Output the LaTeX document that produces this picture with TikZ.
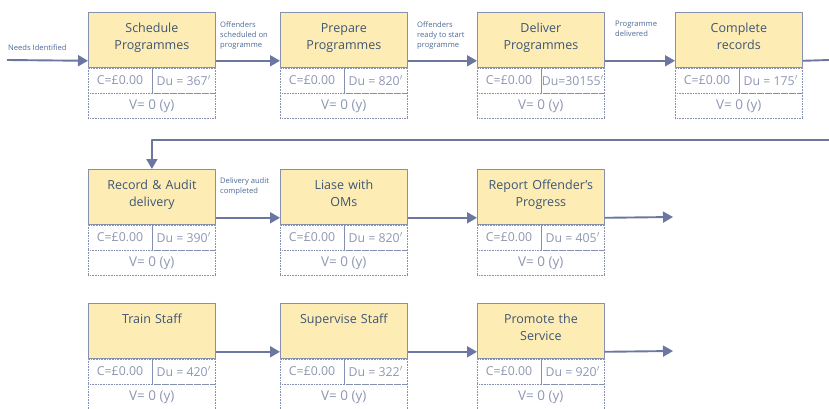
\documentclass[tikz,border=0pt]{standalone}
\usepackage{fontspec}
\setmainfont{Open Sans}
\usetikzlibrary{arrows.meta,positioning}
\definecolor{boxfill}{HTML}{FDEDB5}
\definecolor{boxline}{HTML}{8590B0}
\definecolor{titletext}{HTML}{3E5575}
\definecolor{celltext}{HTML}{8E97B3}
\definecolor{flowline}{HTML}{6B77A0}
\definecolor{lbltext}{HTML}{4C6996}

% one process box: name, x, y (top left), title, duration
\newcommand{\proc}[5]{%
  \node[proc] (#1) at (#2,#3) {};
  \node[ptitle] (#1t) at (#1.north) {#4};
  \node[half] (#1c) at (#1.south west) {C=£0.00};
  \node[half,anchor=north east] (#1d) at (#1.south east) {#5};
  \node[vrow] (#1v) at (#1c.south west) {V= 0 (y)};
  \draw[boxline,line width=0.8pt] (#1c.north east) -- (#1c.south east);
}

\begin{document}
\begin{tikzpicture}[x=1pt, y=1pt, line join=round,
    proc/.style={draw=boxline, fill=boxfill, line width=0.8pt, anchor=north west,
      minimum width=127pt, minimum height=55pt, inner sep=0pt},
    ptitle/.style={anchor=north, text=titletext, font=\fontsize{12.5}{17}\selectfont,
      align=center, text width=124pt, inner sep=0pt, yshift=-11pt},
    half/.style={draw=boxline, densely dotted, line width=0.6pt, anchor=north west,
      minimum width=63.5pt, minimum height=25pt, inner sep=0pt, text=celltext,
      font=\fontsize{12.3}{14}\selectfont},
    vrow/.style={half, minimum width=127pt, font=\fontsize{13.5}{15}\selectfont},
    lbl/.style={anchor=north west, align=left, text=lbltext, inner sep=0pt,
      font=\fontsize{7.6}{10}\selectfont},
    flow/.style={draw=flowline, line width=1.9pt, -{Triangle[length=10pt,width=11pt]}},
    flowend/.style={draw=flowline, line width=1.9pt}]
\useasboundingbox (0,0) rectangle (829,-409);

% first row
\proc{sched}{88}{-12}{Schedule\\Programmes}{Du = 367$'$}
\proc{prep}{280}{-12}{Prepare\\Programmes}{Du = 820$'$}
\proc{deliv}{477}{-12}{Deliver\\Programmes}{Du=30155$'$}
\proc{compl}{675}{-12}{Complete\\records}{Du = 175$'$}

% second row
\proc{audit}{88}{-169}{Record \& Audit\\delivery}{Du = 390$'$}
\proc{liase}{280}{-169}{Liase with\\OMs}{Du = 820$'$}
\proc{report}{477}{-169}{Report Offender’s\\Progress}{Du = 405$'$}

% third row
\proc{train}{88}{-303}{Train Staff}{Du = 420$'$}
\proc{superv}{280}{-303}{Supervise Staff}{Du = 322$'$}
\proc{promo}{477}{-303}{Promote the\\Service}{Du = 920$'$}

% flow labels
\node[lbl] (needs) at (8,-44) {Needs Identified};
\node[lbl] (lsched) at (220,-21) {Offenders\\scheduled on\\programme};
\node[lbl] (lready) at (417,-21) {Offenders\\ready to start\\programme};
\node[lbl] (ldeliv) at (615,-21) {Programme\\delivered};
\node[lbl] (laudit) at (220,-178) {Delivery audit\\completed};

\coordinate (start) at (7,-60);
\coordinate (edge1) at (829,-60);
\coordinate (edge2) at (829,-140);
\coordinate (out2) at (673,-217);
\coordinate (out3) at (673,-351);

\draw[flow] (start) -- ([yshift=7pt]sched.south west);
\draw[flow] ([yshift=7pt]sched.south east) -- ([yshift=7pt]prep.south west);
\draw[flow] ([yshift=7pt]prep.south east) -- ([yshift=7pt]deliv.south west);
\draw[flow] ([yshift=7pt]deliv.south east) -- ([yshift=7pt]compl.south west);
\draw[flowend] ([yshift=7pt]compl.south east) -- (edge1);
\draw[flow] (edge2) -| (audit.north);

\draw[flow] ([yshift=7pt]audit.south east) -- ([yshift=7pt]liase.south west);
\draw[flow] ([yshift=7pt]liase.south east) -- ([yshift=7pt]report.south west);
\draw[flow] ([yshift=7pt]report.south east) -- (out2);

\draw[flow] ([yshift=7pt]train.south east) -- ([yshift=7pt]superv.south west);
\draw[flow] ([yshift=7pt]superv.south east) -- ([yshift=7pt]promo.south west);
\draw[flow] ([yshift=7pt]promo.south east) -- (out3);
\end{tikzpicture}
\end{document}
